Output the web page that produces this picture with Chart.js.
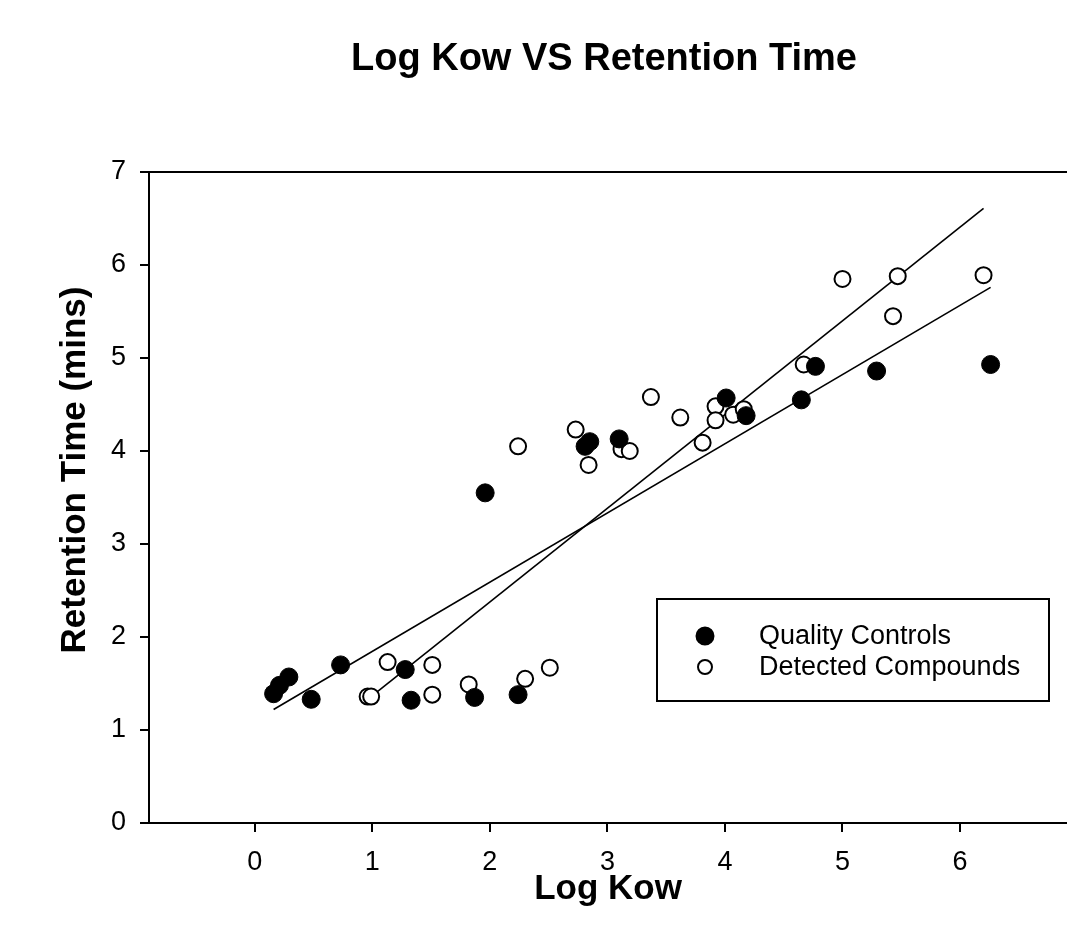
<!DOCTYPE html>
<html>
<head>
<meta charset="utf-8">
<script src="https://cdn.jsdelivr.net/npm/chart.js@4.4.1/dist/chart.umd.min.js"></script>
<style>
  body { margin: 0; background: #fff; }
  #wrap { width: 1067px; height: 936px; }
</style>
</head>
<body>
<div id="wrap"><canvas id="chart" width="1067" height="936"></canvas></div>
<script>
const fontFam = '"Liberation Sans", Arial, sans-serif'

// quality controls (filled)
const qcX = [0.16, 0.21, 0.29, 0.48, 0.73, 1.28, 1.33, 1.87, 1.96, 2.24, 2.81, 2.85, 3.10, 4.01, 4.18, 4.65, 4.77, 5.29, 6.26]
const qcY = [1.39, 1.48, 1.57, 1.33, 1.70, 1.65, 1.32, 1.35, 3.55, 1.38, 4.05, 4.10, 4.13, 4.57, 4.38, 4.55, 4.91, 4.86, 4.93]

// detected compounds (open)
const dcX = [0.96, 0.99, 1.13, 1.51, 1.51, 1.82, 2.24, 2.30, 2.51, 2.73, 2.84, 3.12, 3.19, 3.37, 3.62, 3.81, 3.92, 3.92, 4.07, 4.16, 4.67, 5.00, 5.43, 5.47, 6.20]
const dcY = [1.36, 1.36, 1.73, 1.70, 1.38, 1.49, 4.05, 1.55, 1.67, 4.23, 3.85, 4.02, 4.00, 4.58, 4.36, 4.09, 4.48, 4.33, 4.39, 4.45, 4.93, 5.85, 5.45, 5.88, 5.89]

// regression line end points
const qcFitX = [0.16, 6.26]
const qcFitY = [1.22, 5.76]
const dcFitX = [0.99, 6.20]
const dcFitY = [1.36, 6.61]

const xTicks = [0, 1, 2, 3, 4, 5, 6]
const yTicks = [0, 1, 2, 3, 4, 5, 6, 7]

const seriesNames = ['Quality Controls', 'Detected Compounds']
const chartTitle = 'Log Kow VS Retention Time'
const yTitle = 'Retention Time (mins)'

function toPoints(xs, ys) {
  return xs.map((x, i) => ({x: x, y: ys[i]}))
}

const titlePlugin = {
  id: 'bigTitle',
  afterDraw(chart) {
    const ctx = chart.ctx
    ctx.save()
    ctx.font = 'bold 38px ' + fontFam
    ctx.fillStyle = '#000'
    ctx.textAlign = 'center'
    ctx.textBaseline = 'alphabetic'
    ctx.fillText(chartTitle, 604, 70)
    // y axis title, sits a bit above the middle of the axis
    ctx.translate(75, 470)
    ctx.rotate(-Math.PI / 2)
    ctx.font = 'bold 35px ' + fontFam
    ctx.textBaseline = 'middle'
    ctx.fillText(yTitle, 0, 0)
    ctx.restore()
  }
}

const topLine = {
  id: 'topLine',
  afterDraw(chart) {
    const {ctx, chartArea: {top, left, right}} = chart
    ctx.save()
    ctx.strokeStyle = '#000'
    ctx.lineWidth = 2
    ctx.beginPath()
    ctx.moveTo(left - 1, top)
    ctx.lineTo(right, top)
    ctx.stroke()
    ctx.restore()
  }
}

const boxLegend = {
  id: 'boxLegend',
  afterDraw(chart) {
    const ctx = chart.ctx
    const ds = chart.data.datasets
    ctx.save()
    ctx.strokeStyle = '#000'
    ctx.lineWidth = 2
    ctx.fillStyle = '#fff'
    ctx.fillRect(657, 599, 392, 102)
    ctx.strokeRect(657, 599, 392, 102)
    ctx.font = '27px ' + fontFam
    ctx.textBaseline = 'middle'
    ctx.textAlign = 'left'
    const rows = [636, 667]
    for (let i = 0; i < 2; i++) {
      ctx.beginPath()
      ctx.arc(705, rows[i], i === 0 ? 8.5 : 7, 0, Math.PI * 2)
      ctx.fillStyle = ds[i].backgroundColor
      ctx.fill()
      ctx.lineWidth = 2
      ctx.strokeStyle = '#000'
      ctx.stroke()
      ctx.fillStyle = '#000'
      ctx.fillText(seriesNames[i], 759, rows[i] + 1)
    }
    ctx.restore()
  }
}

const data = {
  datasets: [
    {
      label: seriesNames[0],
      data: toPoints(qcX, qcY),
      backgroundColor: '#000',
      borderColor: '#000',
      borderWidth: 1,
      pointRadius: 9,
      order: 1
    },
    {
      label: seriesNames[1],
      data: toPoints(dcX, dcY),
      backgroundColor: '#fff',
      borderColor: '#000',
      borderWidth: 2,
      pointRadius: 8,
      order: 1
    },
    {
      type: 'line',
      data: toPoints(qcFitX, qcFitY),
      borderColor: '#000',
      borderWidth: 1.6,
      pointRadius: 0,
      fill: false,
      order: 2
    },
    {
      type: 'line',
      data: toPoints(dcFitX, dcFitY),
      borderColor: '#000',
      borderWidth: 1.6,
      pointRadius: 0,
      fill: false,
      order: 2
    }
  ]
}

const config = {
  type: 'scatter',
  data: data,
  options: {
    responsive: false,
    animation: false,
    layout: { autoPadding: false, padding: { top: 172, right: 0, left: 0, bottom: 0 } },
    plugins: {
      legend: { display: false },
      tooltip: { enabled: false },
      title: { display: false }
    },
    scales: {
      x: {
        type: 'linear',
        min: -0.9,
        max: 6.91,
        afterBuildTicks(s) { s.ticks = xTicks.map(v => ({value: v})) },
        afterFit(s) {
          s.height = 113
          s.paddingRight = 0
          s.paddingLeft = 0
        },
        ticks: { color: '#000', font: { size: 27, family: fontFam }, padding: 14, maxRotation: 0 },
        grid: { drawOnChartArea: false, drawTicks: true, tickLength: 9, color: '#000', lineWidth: 2 },
        border: { color: '#000', width: 2 },
        title: {
          display: true,
          text: 'Log Kow',
          color: '#000',
          font: { size: 35, weight: 'bold', family: fontFam },
          padding: { top: 0, bottom: 26 }
        }
      },
      y: {
        type: 'linear',
        min: 0,
        max: 7,
        afterBuildTicks(s) { s.ticks = yTicks.map(v => ({value: v})) },
        afterFit(s) { s.width = 149 },
        ticks: { color: '#000', font: { size: 27, family: fontFam }, padding: 14 },
        grid: { drawOnChartArea: false, drawTicks: true, tickLength: 9, color: '#000', lineWidth: 2 },
        border: { color: '#000', width: 2 },
        title: { display: false }
      }
    }
  },
  plugins: [titlePlugin, topLine, boxLegend]
}

Chart.defaults.font.family = fontFam
const scatterChart = new Chart(document.getElementById('chart'), config)
</script>
</body>
</html>
